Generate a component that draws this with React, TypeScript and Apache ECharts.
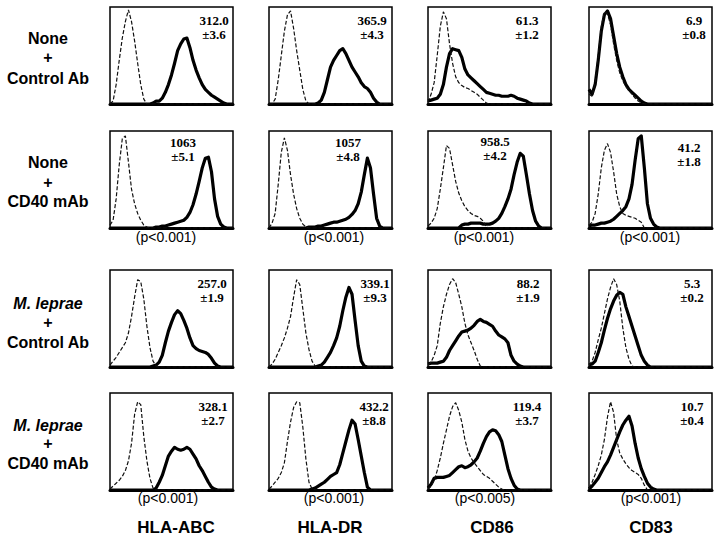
import React, { useEffect, useRef } from "react";
import * as echarts from "echarts";

// ---- data: histogram heights (% of panel height) for 41 fluorescence bins ----
const BIN_COUNT = 41;
const bins = Array.from({ length: BIN_COUNT }, (_, i) => i);

const rowLabels = [
  ["None", "+", "Control Ab"],
  ["None", "+", "CD40 mAb"],
  ["M. leprae", "+", "Control Ab"],
  ["M. leprae", "+", "CD40 mAb"],
];
const colLabels = ["HLA-ABC", "HLA-DR", "CD86", "CD83"];
const meanLabels = [
  ["312.0", "365.9", "61.3", "6.9"],
  ["1063", "1057", "958.5", "41.2"],
  ["257.0", "339.1", "88.2", "5.3"],
  ["328.1", "432.2", "119.4", "10.7"],
];
const sdLabels = [
  ["±3.6", "±4.3", "±1.2", "±0.8"],
  ["±5.1", "±4.8", "±4.2", "±1.8"],
  ["±1.9", "±9.3", "±1.9", "±0.2"],
  ["±2.7", "±8.8", "±3.7", "±0.4"],
];
const pLabels = [
  null,
  ["(p<0.001)", "(p<0.001)", "(p<0.001)", "(p<0.001)"],
  null,
  ["(p<0.001)", "(p<0.001)", "(p<0.005)", "(p<0.001)"],
];

// Row 1: None + Control Ab
const r1c1Iso = [0,3,20,45,68,85,97,85,65,42, 20,5,0,0,0,0,0,0,0,0, 0,0,0,0,0,0,0,0,0,0, 0,0,0,0,0,0,0,0,0,0,0];
const r1c1Stain = [0,0,0,0,0,0,0,0,0,0, 0,0,0,0,1,3,3,6,12,20, 30,42,55,62,67,68,58,45,35,27, 20,15,12,9,7,5,3,1,0,0,0];
const r1c2Iso = [0,0,5,25,50,75,92,96,78,55, 35,15,3,0,0,0,0,0,0,0, 0,0,0,0,0,0,0,0,0,0, 0,0,0,0,0,0,0,0,0,0,0];
const r1c2Stain = [0,0,0,0,0,0,0,0,0,0, 0,0,0,0,0,0,1,4,12,25, 38,45,50,55,57,52,45,38,33,28, 22,18,16,12,6,2,0,0,0,0,0];
const r1c3Iso = [2,10,22,50,80,95,88,62,42,28, 22,19,17,16,14,12,10,7,4,1, 0,0,0,0,0,0,0,0,0,0, 0,0,0,0,0,0,0,0,0,0,0];
const r1c3Stain = [3,4,5,6,10,20,38,52,57,56, 55,48,36,30,27,24,21,18,15,12, 11,10,9,9,8,8,8,9,8,6, 5,4,3,1,0,0,0,0,0,0,0];
const r1c4Iso = [10,8,22,50,80,95,93,82,62,45, 32,24,18,14,10,6,3,1,0,0, 0,0,0,0,0,0,0,0,0,0, 0,0,0,0,0,0,0,0,0,0,0];
const r1c4Stain = [15,10,20,45,75,92,96,88,70,52, 38,28,20,15,12,9,6,3,1,0, 0,0,0,0,0,0,0,0,0,0, 0,0,0,0,0,0,0,0,0,0,0];

// Row 2: None + CD40 mAb
const r2c1Iso = [3,8,30,65,92,95,68,40,25,15, 8,3,1,0,0,0,0,0,0,0, 0,0,0,0,0,0,0,0,0,0, 0,0,0,0,0,0,0,0,0,0,0];
const r2c1Stain = [0,0,0,0,0,0,0,0,0,0, 0,0,0,0,0,1,1,2,2,3, 4,5,6,7,8,11,16,24,35,48, 62,72,73,58,30,12,4,1,0,0,0];
const r2c2Iso = [0,5,15,45,78,93,80,55,35,20, 10,4,1,0,0,0,0,0,0,0, 0,0,0,0,0,0,0,0,0,0, 0,0,0,0,0,0,0,0,0,0,0];
const r2c2Stain = [0,0,0,0,0,0,0,0,0,0, 0,0,0,1,1,1,2,2,3,4, 5,6,6,7,8,9,11,14,18,25, 37,55,72,62,35,10,2,0,0,0,0];
const r2c3Iso = [2,5,10,20,40,62,85,82,65,48, 36,28,22,18,15,13,12,10,7,1, 0,0,0,0,0,0,0,0,0,0, 0,0,0,0,0,0,0,0,0,0,0];
const r2c3Stain = [0,0,0,0,0,0,0,0,0,0, 0,3,4,4,5,5,5,5,4,4, 4,5,7,10,15,22,30,40,55,68, 77,74,55,35,18,7,2,0,0,0,0];
const r2c4Iso = [3,6,15,35,62,80,87,78,58,35, 22,15,13,12,11,10,8,6,0,0, 0,0,0,0,0,0,0,0,0,0, 0,0,0,0,0,0,0,0,0,0,0];
const r2c4Stain = [2,3,3,4,5,5,6,7,9,12, 15,18,22,30,45,70,92,95,62,25, 10,4,1,0,0,0,0,0,0,0, 0,0,0,0,0,0,0,0,0,0,0];

// Row 3: M. leprae + Control Ab
const r3c1Iso = [2,6,10,15,20,25,35,52,72,90, 88,70,42,20,6,1,0,0,0,0, 0,0,0,0,0,0,0,0,0,0, 0,0,0,0,0,0,0,0,0,0,0];
const r3c1Stain = [0,0,0,0,0,0,0,0,0,0, 0,0,0,0,1,2,5,12,25,37, 46,54,58,55,48,40,30,22,19,17, 16,15,13,9,4,1,0,0,0,0,0];
const r3c2Iso = [0,3,8,15,22,30,40,52,72,90, 85,60,35,18,6,1,0,0,0,0, 0,0,0,0,0,0,0,0,0,0, 0,0,0,0,0,0,0,0,0,0,0];
const r3c2Stain = [0,0,0,0,0,0,0,0,0,0, 0,0,0,0,0,0,1,2,5,10, 15,22,30,42,58,72,82,75,48,22, 6,1,0,0,0,0,0,0,0,0,0];
const r3c3Iso = [2,5,12,22,45,62,75,85,91,87, 75,62,45,33,25,17,8,1,0,0, 0,0,0,0,0,0,0,0,0,0, 0,0,0,0,0,0,0,0,0,0,0];
const r3c3Stain = [3,4,4,4,5,6,10,17,22,27, 32,36,37,38,40,43,47,49,47,46, 44,42,37,33,31,29,25,12,6,3, 1,0,0,0,0,0,0,0,0,0,0];
const r3c4Iso = [2,6,15,28,40,55,70,82,91,85, 68,40,20,8,1,0,0,0,0,0, 0,0,0,0,0,0,0,0,0,0, 0,0,0,0,0,0,0,0,0,0,0];
const r3c4Stain = [2,3,6,15,25,38,50,60,68,74, 77,75,62,52,42,32,22,12,6,2, 0,0,0,0,0,0,0,0,0,0, 0,0,0,0,0,0,0,0,0,0,0];

// Row 4: M. leprae + CD40 mAb
const r4c1Iso = [1,4,7,10,14,20,30,48,78,91, 88,55,30,12,2,0,0,0,0,0, 0,0,0,0,0,0,0,0,0,0, 0,0,0,0,0,0,0,0,0,0,0];
const r4c1Stain = [0,0,0,0,0,0,0,0,0,0, 0,0,0,0,0,2,8,15,25,35, 40,44,42,41,42,44,42,37,32,25, 20,14,8,3,1,0,0,0,0,0,0];
const r4c2Iso = [1,4,8,12,18,28,50,70,85,91, 90,65,32,8,1,0,0,0,0,0, 0,0,0,0,0,0,0,0,0,0, 0,0,0,0,0,0,0,0,0,0,0];
const r4c2Stain = [0,0,0,0,0,0,0,0,0,0, 0,0,0,0,1,2,4,6,8,11, 14,16,18,26,38,50,62,72,68,52, 35,18,3,0,0,0,0,0,0,0,0];
const r4c3Iso = [1,4,10,20,33,48,62,76,86,90, 82,70,52,40,33,28,24,20,16,14, 12,9,6,3,1,0,0,0,0,0, 0,0,0,0,0,0,0,0,0,0,0];
const r4c3Stain = [2,6,12,13,13,13,14,15,18,21, 24,25,23,24,26,29,33,40,48,55, 60,62,61,57,50,36,22,12,5,1, 0,0,0,0,0,0,0,0,0,0,0];
const r4c4Iso = [2,8,16,25,36,52,75,91,80,52, 38,32,27,23,20,18,16,12,5,0, 0,0,0,0,0,0,0,0,0,0, 0,0,0,0,0,0,0,0,0,0,0];
const r4c4Stain = [1,4,8,12,18,24,29,36,44,52, 60,67,72,76,66,48,33,22,14,7, 3,1,0,0,0,0,0,0,0,0, 0,0,0,0,0,0,0,0,0,0,0];

const isoData = [
  [r1c1Iso, r1c2Iso, r1c3Iso, r1c4Iso],
  [r2c1Iso, r2c2Iso, r2c3Iso, r2c4Iso],
  [r3c1Iso, r3c2Iso, r3c3Iso, r3c4Iso],
  [r4c1Iso, r4c2Iso, r4c3Iso, r4c4Iso],
];
const stainData = [
  [r1c1Stain, r1c2Stain, r1c3Stain, r1c4Stain],
  [r2c1Stain, r2c2Stain, r2c3Stain, r2c4Stain],
  [r3c1Stain, r3c2Stain, r3c3Stain, r3c4Stain],
  [r4c1Stain, r4c2Stain, r4c3Stain, r4c4Stain],
];

// ---- layout ----
const COL_LEFT = [110, 269, 428, 589];
const ROW_TOP = [7, 131, 270, 393];
const PW = 123;
const PH = 97;
// annotation centre offsets (x from panel left, y of first line from panel top)
const annoDx = [
  [104, 103, 99, 105],
  [73, 79, 67, 100],
  [102, 106, 100, 103],
  [103, 105, 99, 103],
];
const annoDy = [
  [13, 13, 13, 13],
  [11, 11, 10, 16],
  [13, 13, 13, 13],
  [13, 13, 13, 13],
];
const rowLabelY = [
  [38, 57, 78],
  [162, 182, 201],
  [303, 322, 342],
  [425, 443, 463],
];
const pCenterX = [
  [166, 334, 484, 650],
  [168, 334, 485, 651],
];
const pY = [237, 498];
const colLabelX = [176, 330, 492, 651];

export default function App() {
  const ref = useRef<HTMLDivElement>(null);
  useEffect(() => {
    if (!ref.current) return;
    const chart = echarts.init(ref.current, null, { renderer: "svg" });
    const grids: any[] = [];
    const xAxes: any[] = [];
    const yAxes: any[] = [];
    const series: any[] = [];
    const graphics: any[] = [];
    let gi = 0;
    for (let r = 0; r < 4; r++) {
      for (let c = 0; c < 4; c++) {
        grids.push({
          left: COL_LEFT[c],
          top: ROW_TOP[r],
          width: PW,
          height: PH,
          show: true,
          borderColor: "#000",
          borderWidth: 1.5,
          backgroundColor: "transparent",
        });
        xAxes.push({
          gridIndex: gi,
          type: "value",
          min: 0,
          max: BIN_COUNT - 1,
          axisLine: { show: true, onZero: false, lineStyle: { color: "#000", width: 3 } },
          axisTick: { show: false },
          axisLabel: { show: false },
          splitLine: { show: false },
        });
        yAxes.push({
          gridIndex: gi,
          type: "value",
          min: 0,
          max: 100,
          axisLine: { show: false },
          axisTick: { show: false },
          axisLabel: { show: false },
          splitLine: { show: false },
        });
        series.push({
          type: "line",
          xAxisIndex: gi,
          yAxisIndex: gi,
          data: bins.map((b) => [b, isoData[r][c][b]]),
          showSymbol: false,
          symbol: "none",
          lineStyle: { color: "#111", width: 1.2, type: [4, 2] },
          z: 4,
        });
        series.push({
          type: "line",
          xAxisIndex: gi,
          yAxisIndex: gi,
          data: bins.map((b) => [b, stainData[r][c][b]]),
          showSymbol: false,
          symbol: "none",
          lineStyle: { color: "#000", width: 3.2, join: "round" },
          z: 3,
        });
        const ax = COL_LEFT[c] + annoDx[r][c];
        const ay = ROW_TOP[r] + annoDy[r][c];
        graphics.push({
          type: "text",
          x: ax,
          y: ay,
          style: {
            text: meanLabels[r][c],
            font: 'bold 13px "Liberation Serif"',
            fill: "#000",
            textAlign: "center",
            textVerticalAlign: "middle",
          },
        });
        graphics.push({
          type: "text",
          x: ax,
          y: ay + 14,
          style: {
            text: sdLabels[r][c],
            font: 'bold 13px "Liberation Serif"',
            fill: "#000",
            textAlign: "center",
            textVerticalAlign: "middle",
          },
        });
        gi++;
      }
      // row labels
      rowLabels[r].forEach((t, k) => {
        graphics.push({
          type: "text",
          x: 48,
          y: rowLabelY[r][k],
          style: {
            text: t,
            font: (t.startsWith("M.") ? "italic " : "") + 'bold 16px "Liberation Sans"',
            fill: "#000",
            textAlign: "center",
            textVerticalAlign: "middle",
          },
        });
      });
    }
    // p-values
    [1, 3].forEach((r, k) => {
      (pLabels[r] as string[]).forEach((t, c) => {
        graphics.push({
          type: "text",
          x: pCenterX[k][c],
          y: pY[k],
          style: {
            text: t,
            font: '14px "Liberation Sans"',
            fill: "#000",
            textAlign: "center",
            textVerticalAlign: "middle",
          },
        });
      });
    });
    // column labels
    colLabels.forEach((t, c) => {
      graphics.push({
        type: "text",
        x: colLabelX[c],
        y: 527,
        style: {
          text: t,
          font: 'bold 17px "Liberation Sans"',
          fill: "#000",
          textAlign: "center",
          textVerticalAlign: "middle",
        },
      });
    });

    chart.setOption({
      animation: false,
      backgroundColor: "#fff",
      grid: grids,
      xAxis: xAxes,
      yAxis: yAxes,
      series,
      graphic: { elements: graphics },
    });
    return () => chart.dispose();
  }, []);
  return (
    <div
      ref={ref}
      style={{ position: "fixed", left: 0, top: 0, width: 721, height: 544, background: "#fff" }}
    />
  );
}
